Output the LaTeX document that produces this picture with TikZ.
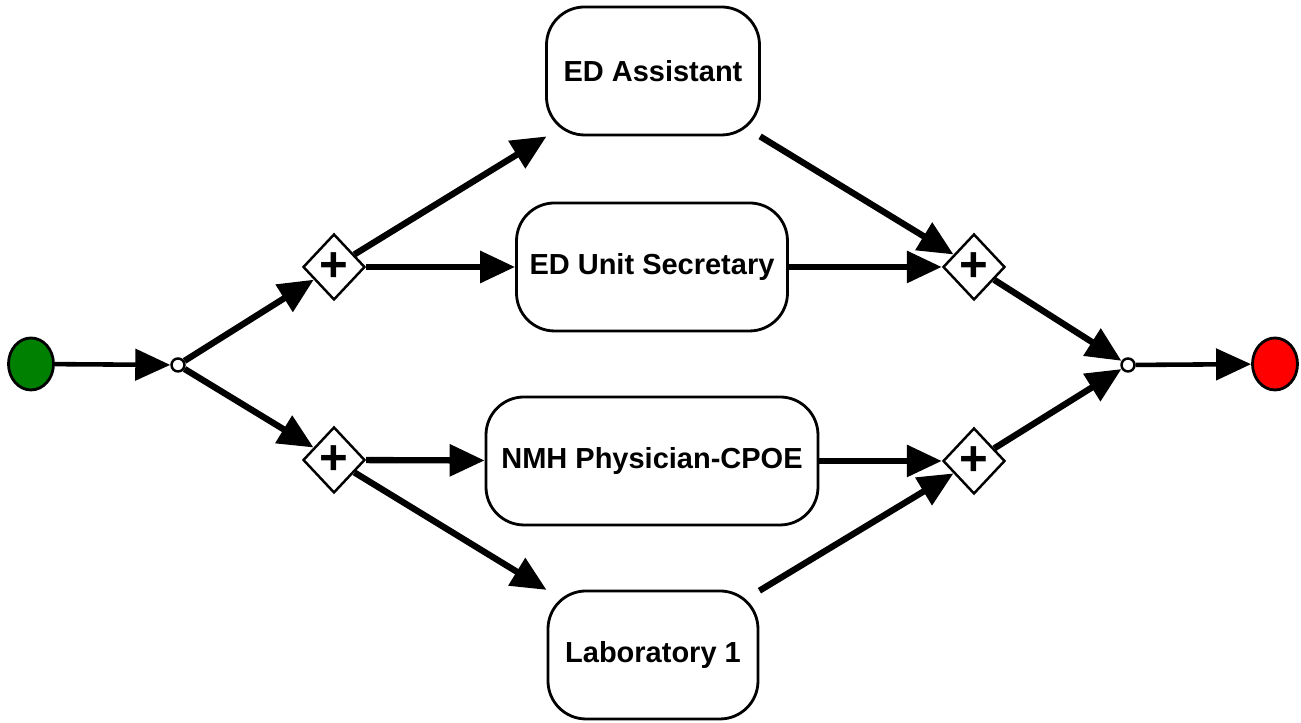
\documentclass[tikz,border=0pt]{standalone}
\usepackage{fontspec}
\setmainfont{Liberation Sans}
\usepackage{tikz}
\usetikzlibrary{arrows.meta,shapes.geometric}

\begin{document}
\begin{tikzpicture}[
        >={Triangle[length=3.5mm,width=3.1mm]},
        line width=1.8pt,
        task/.style={draw, line width=0.8pt, rounded corners=0.38cm,
                     minimum height=1.28cm, inner sep=0pt,
                     font=\fontsize{8.25}{10}\selectfont\bfseries},
        gate/.style={draw, diamond, line width=0.7pt, inner sep=0pt,
                     minimum width=0.62cm, minimum height=0.66cm,
                     font=\fontsize{14}{14}\selectfont\bfseries},
        junction/.style={draw, circle, fill=white, line width=0.7pt,
                         minimum size=0.13cm, inner sep=0pt},
        event/.style={draw, ellipse, line width=0.8pt, inner sep=0pt,
                      minimum width=0.45cm, minimum height=0.52cm}
        ]
        \useasboundingbox (0,0) rectangle (13.01,7.23);

        \node[event, fill=green!50!black] (start) at (0.31,3.59) {};
        \node[junction] (fork) at (1.78,3.58) {};
        \node[gate] (fup) at (3.34,4.56) {+};
        \node[gate] (flow) at (3.34,2.63) {+};

        \node[task, minimum width=2.13cm] (assist) at (6.53,6.52) {ED Assistant};
        \node[task, minimum width=2.71cm] (secr) at (6.52,4.56) {ED Unit Secretary};
        \node[task, minimum width=3.32cm] (cpoe) at (6.52,2.62) {NMH Physician-CPOE};
        \node[task, minimum width=2.10cm] (lab) at (6.53,0.68) {Laboratory 1};

        \node[gate] (jup) at (9.74,4.56) {+};
        \node[gate] (jlow) at (9.74,2.62) {+};
        \node[junction] (join) at (11.28,3.58) {};
        \node[event, fill=red] (stop) at (12.75,3.59) {};

        \path[->]
              (start) edge [line width=1.3pt] (fork)
              (fork) edge (fup)
              (fork) edge (flow)

              (fup) edge (assist)
              (fup) edge (secr)
              (flow) edge (cpoe)
              (flow) edge (lab)

              (assist) edge (jup)
              (secr) edge (jup)
              (cpoe) edge (jlow)
              (lab) edge (jlow)

              (jup) edge (join)
              (jlow) edge (join)
              (join) edge [line width=1.3pt] (stop);
    \end{tikzpicture}
\end{document}
